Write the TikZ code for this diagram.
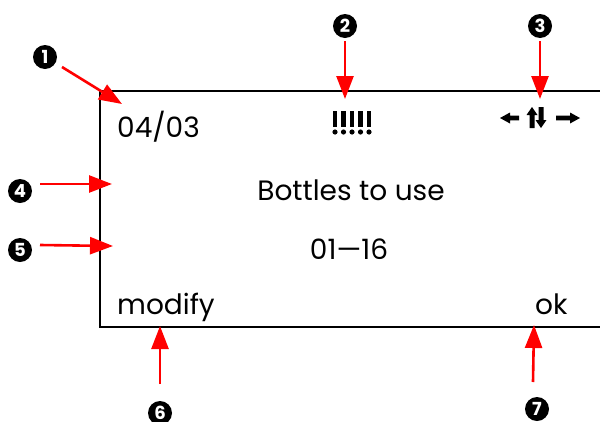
\documentclass[tikz,border=0pt]{standalone}
\usepackage{fontspec}
\setmainfont{Poppins}
\usetikzlibrary{arrows.meta}
\begin{document}
\begin{tikzpicture}[x=1pt,y=-1pt,
  callout/.style={-{Triangle[length=23pt,width=17pt]},red,line width=2.6pt},
  num/.style={circle,fill=black,text=white,inner sep=0pt,minimum size=24pt,font=\fontsize{18}{18}\selectfont\bfseries},
  lcd/.style={inner sep=0pt,font=\fontsize{28}{28}\selectfont},
  icon/.style={fill=black,draw=none}]
\useasboundingbox (0,0) rectangle (600,421);
\draw[line width=2.4pt] (605,91) -- (100,91) -- (100,327) -- (605,327);
% texts
\node[lcd,anchor=base west] (date) at (117,137) {04/03};
\node[lcd] (title) at (351,190) {Bottles to use};
\node[lcd] (range) at (349,249) {01—16};
\node[lcd,anchor=base west] (modify) at (117,314) {modify};
\node[lcd,anchor=base west] (ok) at (535,314) {ok};
% alarm icon !!!!!
\foreach \x in {335,343.5,352,360.5,369}{
  \fill[icon] (\x-2.2,111) rectangle (\x+2.2,127);
  \fill[icon] (\x,132) circle (2.6);
}
\coordinate (alarm) at (352,121);
% direction icon
\fill[icon] (500,118) -- (510,112.5) -- (510,115.7) -- (519,115.7) -- (519,120.3) -- (510,120.3) -- (510,123.5) -- cycle;
\fill[icon] (532,107) -- (537.5,115) -- (534.5,115) -- (534.5,128) -- (529.5,128) -- (529.5,115) -- (526.5,115) -- cycle;
\fill[icon] (541,128) -- (546.5,120) -- (543.5,120) -- (543.5,107) -- (538.5,107) -- (538.5,120) -- (535.5,120) -- cycle;
\fill[icon] (580,118) -- (570,112.5) -- (570,115.7) -- (556,115.7) -- (556,120.3) -- (570,120.3) -- (570,123.5) -- cycle;
\coordinate (dirs) at (540,118);
% callout markers
\node[num] (n1) at (45,57) {1};
\node[num] (n2) at (345,26) {2};
\node[num] (n3) at (540,26) {3};
\node[num] (n4) at (20,191) {4};
\node[num] (n5) at (20,250) {5};
\node[num] (n6) at (160,413) {6};
\node[num] (n7) at (537,409) {7};
% arrow targets
\coordinate (t1) at (122,104);
\coordinate (t2) at (345,99);
\coordinate (t3) at (540,99);
\coordinate (t4) at (112,184);
\coordinate (t5) at (113,246);
\coordinate (t6) at (160,326);
\coordinate (t7) at (534,325);
\draw[callout] (62,67) -- (t1);
\draw[callout] (n2.south) ++(0,3) -- (t2);
\draw[callout] (n3.south) ++(0,3) -- (t3);
\draw[callout] (40,184) -- (t4);
\draw[callout] (40,245) -- (t5);
\draw[callout] (160,384) -- (t6);
\draw[callout] (533,382) -- (t7);
\end{tikzpicture}
\end{document}
